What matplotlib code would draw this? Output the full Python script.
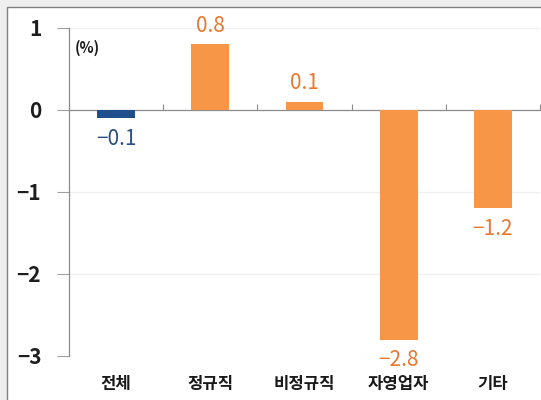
import matplotlib.pyplot as plt
from matplotlib.patches import Rectangle

plt.rcParams['font.family'] = ['Noto Sans CJK KR', 'DejaVu Sans']
plt.rcParams['axes.unicode_minus'] = True

categories = ['전체', '정규직', '비정규직', '자영업자', '기타']
values = [-0.1, 0.8, 0.1, -2.8, -1.2]
value_labels = ['\u22120.1', '0.8', '0.1', '\u22122.8', '\u22121.2']
y_ticks = [1, 0, -1, -2, -3]
y_tick_labels = ['1', '0', '\u22121', '\u22122', '\u22123']

orange = '#F79646'
navy = '#1F4E8C'
bar_colors = [navy, orange, orange, orange, orange]
label_colors = ['#2A4F86', '#E8782F', '#E8782F', '#E8782F', '#E8782F']

fig = plt.figure(figsize=(5.41, 4.0), dpi=100)
fig.patch.set_facecolor('#efefef')
fig.patches.append(Rectangle((7 / 541, -0.01), 1.0, 1 - 7 / 400 + 0.01,
                             transform=fig.transFigure, facecolor='white',
                             edgecolor='#808080', linewidth=1.0, zorder=-5))

ax = fig.add_axes([69 / 541, 1 - 356 / 400, (540 - 69) / 541, (356 - 28) / 400])
ax.set_facecolor('none')

x = list(range(len(categories)))
ax.bar(x, values, width=0.4, color=bar_colors, zorder=3)

ax.set_xlim(-0.5, len(categories) - 0.5)
ax.set_ylim(-3, 1)

# grid
for t in y_ticks:
    if t != 0:
        ax.axhline(t, color='#f0f0f0', lw=1.0, zorder=1)

# y axis
ax.set_yticks(y_ticks)
ax.set_yticklabels(y_tick_labels, fontsize=15, fontweight='bold', color='#1e1e1e')
ax.tick_params(axis='y', length=9, width=0.8, color='#a0a0a0', pad=11)
ax.spines['left'].set_color('#8c8c8c')
ax.spines['left'].set_linewidth(0.9)
ax.spines['top'].set_visible(False)
ax.spines['right'].set_visible(False)

# x axis line through zero with boundary ticks
ax.spines['bottom'].set_position(('data', 0))
ax.spines['bottom'].set_color('#8c8c8c')
ax.spines['bottom'].set_linewidth(0.9)
ax.set_xticks([i + 0.5 for i in x])
ax.set_xticklabels([])
ax.tick_params(axis='x', direction='in', length=4, width=0.8, color='#8c8c8c')

# category labels
for i, c in enumerate(categories):
    ax.text(i, -0.085, c, transform=ax.get_xaxis_transform(), ha='center', va='center',
            fontsize=12, fontweight='bold', color='#1a1a1a')

# value labels
for i, v in enumerate(values):
    if v >= 0:
        ax.text(i, v + 0.23, value_labels[i], ha='center', va='center', fontsize=15,
                color=label_colors[i], zorder=4)
    else:
        ax.text(i, v - 0.25, value_labels[i], ha='center', va='center', fontsize=15,
                color=label_colors[i], zorder=4)

ax.text(0.012, 0.94, '(%)', transform=ax.transAxes, fontsize=10.5, fontweight='bold',
        color='#1a1a1a', va='center')

plt.savefig('out.png', dpi=100)
